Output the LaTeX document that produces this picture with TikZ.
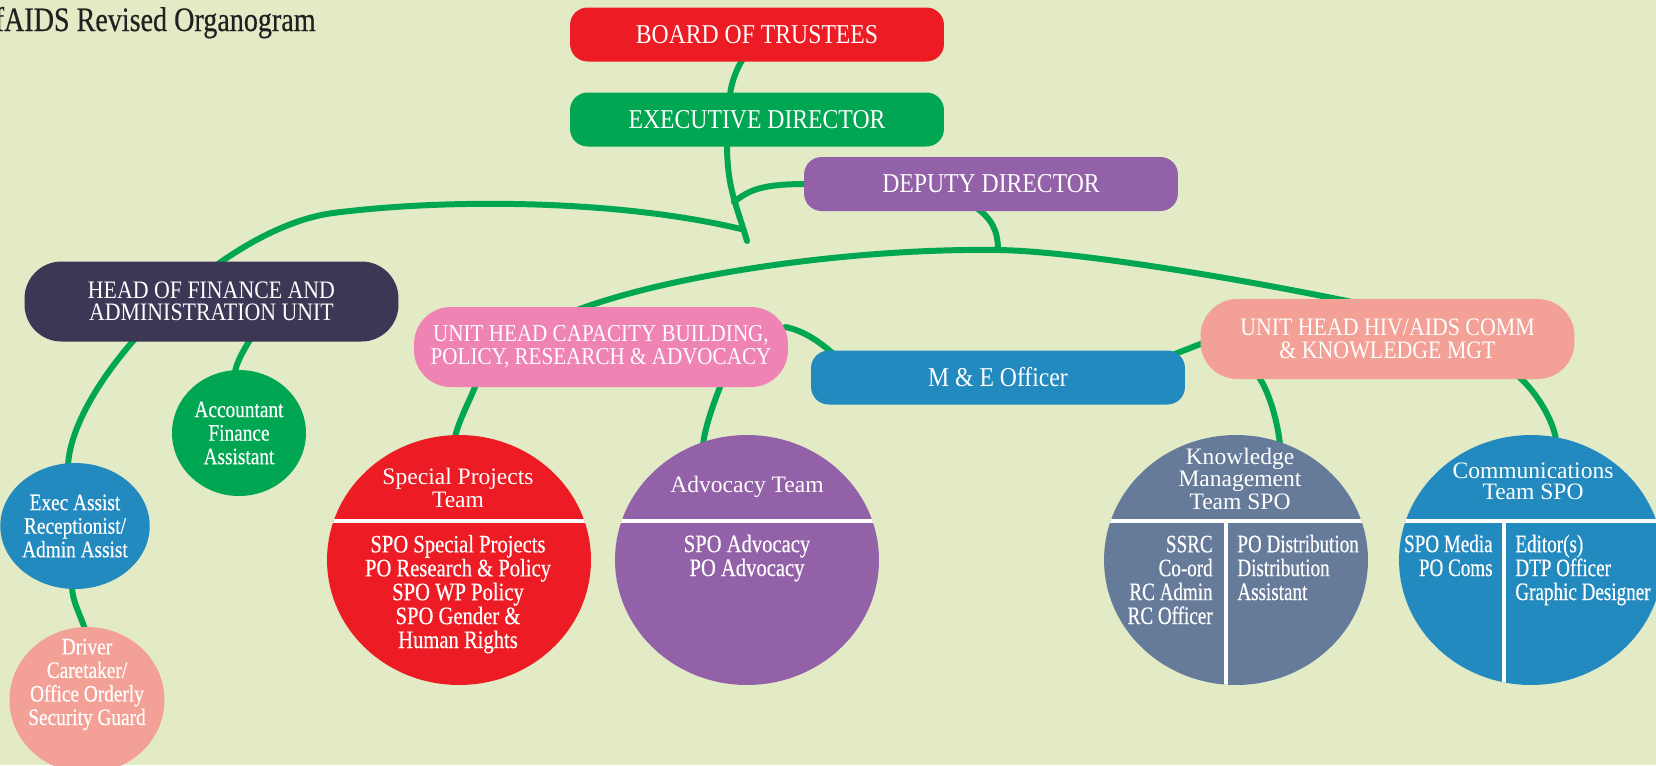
\documentclass[tikz,border=0pt]{standalone}
\usepackage{fontspec}
\setmainfont{Liberation Serif}
\newfontfamily\condfont{Liberation Serif}[FakeStretch=0.82,FakeBold=0.4]
\newfontfamily\tightfont{Liberation Serif}[FakeStretch=0.76,FakeBold=0.4]
\newfontfamily\postfont{Liberation Serif}[FakeStretch=0.87]
\usetikzlibrary{shapes.geometric,calc,backgrounds}
\definecolor{paper}{HTML}{E2EAC6}
\definecolor{leaf}{HTML}{00A651}
\definecolor{scarlet}{HTML}{ED1C24}
\definecolor{plum}{HTML}{9361A8}
\definecolor{ink}{HTML}{3D3756}
\definecolor{rose}{HTML}{EE83B4}
\definecolor{ocean}{HTML}{238ABF}
\definecolor{salmon}{HTML}{F3A096}
\definecolor{slate}{HTML}{667A99}
\definecolor{titlegray}{HTML}{231F20}
\tikzset{
  post/.style={rectangle,rounded corners=10pt,fill=#1,text=white,
               minimum width=7.48cm,minimum height=1.08cm,inner sep=0pt,
               font=\postfont\fontsize{15.5}{12.8}\selectfont,align=center},
  tall/.style={minimum height=1.6cm,rounded corners=21pt,
               font=\postfont\fontsize{14.3}{12.8}\selectfont},
  team/.style={ellipse,fill=#1,minimum width=5.28cm,minimum height=5cm,
               inner sep=0pt},
  dot/.style={ellipse,fill=#1,minimum width=2.68cm,minimum height=2.52cm,
              inner sep=0pt,text=white,align=center,
              font=\condfont\fontsize{13.4}{13.4}\selectfont},
  head/.style={text=white,inner sep=0pt,align=center,
               font=\fontsize{13.4}{11.6}\selectfont},
  body/.style={text=white,inner sep=0pt,align=center,
               font=\condfont\fontsize{14.3}{13.6}\selectfont},
  col/.style={body,font=\tightfont\fontsize{14.3}{13.6}\selectfont},
  wire/.style={draw=leaf,line width=3.4pt,line cap=round},
  split/.style={draw=white,line width=2.8pt},
  ttl/.style={text=titlegray,inner sep=0pt,
              font=\condfont\fontsize{19.5}{19.5}\selectfont},
}
\begin{document}
\begin{tikzpicture}[x=0.02cm,y=-0.02cm]
  \useasboundingbox (0,0) rectangle (1656,765);
  \clip (0,0) rectangle (1656,765);

  \node[ttl,anchor=base east] (title) at (316,31) {SAfAIDS Revised Organogram};

  % management boxes
  \node[post=scarlet] (board) at (757,34.5) {BOARD OF TRUSTEES};
  \node[post=leaf] (exec) at (757,119.5) {EXECUTIVE DIRECTOR};
  \node[post=plum] (deputy) at (991,184) {DEPUTY DIRECTOR};
  \node[post=ink,tall] (fin) at (211.5,301.5) {HEAD OF FINANCE AND\\ADMINISTRATION UNIT};
  \node[post=rose,tall,font=\postfont\fontsize{13.8}{12.8}\selectfont] (cap) at (601,347)
    {UNIT HEAD CAPACITY BUILDING,\\POLICY, RESEARCH \& ADVOCACY};
  \node[post=ocean] (mne) at (998,377.5) {M \& E Officer};
  \node[post=salmon,tall] (hiv) at (1387.5,339) {UNIT HEAD HIV/AIDS COMM\\\& KNOWLEDGE MGT};

  % staff circles
  \node[dot=ocean] (eas) at (75,526) {Exec Assist\\Receptionist/\\Admin Assist};
  \node[dot=leaf] (acc) at (239,433) {Accountant\\Finance\\Assistant};
  \node[dot=salmon,minimum width=3.1cm,minimum height=2.92cm] (drv) at (87,700) {};
  \node[body,font=\condfont\fontsize{13.4}{13.4}\selectfont,anchor=base] (drv-t)
    at (87,725) {Driver\\Caretaker/\\Office Orderly\\Security Guard};

  % team circles
  \node[team=scarlet] (spt) at (459,560) {};
  \node[team=plum] (adv) at (747,560) {};
  \node[team=slate] (kmt) at (1236,560) {};
  \node[team=ocean] (cmt) at (1531,560) {};

  \foreach \tm in {spt,adv,kmt,cmt}{
    \begin{scope}
      \clip (\tm.center) ellipse [x radius=2.64cm,y radius=2.5cm];
      \draw[split] ($(\tm.center)+(-140,-39)$) -- ($(\tm.center)+(140,-39)$);
    \end{scope}
  }
  \foreach \tm/\dx in {kmt/-10,cmt/-27}{
    \begin{scope}
      \clip (\tm.center) ellipse [x radius=2.64cm,y radius=2.5cm];
      \draw[split] ($(\tm.center)+(\dx,-39)$) -- ($(\tm.center)+(\dx,130)$);
    \end{scope}
  }

  % team texts (anchored on the last line)
  \node[head,anchor=base] (spt-h) at (458,507) {Special Projects\\Team};
  \node[body,anchor=base] (spt-b) at (458,648) {SPO Special Projects\\PO Research \& Policy\\SPO WP Policy\\SPO Gender \&\\Human Rights};
  \node[head,anchor=base] (adv-h) at (747,492) {Advocacy Team};
  \node[body,anchor=base] (adv-b) at (747,576) {SPO Advocacy\\PO Advocacy};
  \node[head,anchor=base] (kmt-h) at (1240,509) {Knowledge\\Management\\Team SPO};
  \node[col,align=right,anchor=base east] (kmt-l) at (1213,624) {SSRC\\Co-ord\\RC Admin\\RC Officer};
  \node[col,align=left,anchor=base west] (kmt-r) at (1237,600) {PO Distribution\\Distribution\\Assistant};
  \node[head,anchor=base] (cmt-h) at (1533,499) {Communications\\Team SPO};
  \node[col,align=right,anchor=base east] (cmt-l) at (1493,576) {SPO Media\\PO Coms};
  \node[col,align=left,anchor=base west] (cmt-r) at (1515,600) {Editor(s)\\DTP Officer\\Graphic Designer};

  \coordinate (lj) at (741,229);
  \coordinate (hub) at (747,241);
  \coordinate (dj) at (734,202);
  \coordinate (rj) at (998,250);

  \begin{scope}[on background layer]
    \fill[paper] (0,0) rectangle (1656,765);
    % top of the tree
    \draw[wire] ($(board.south)+(-14,-3)$) .. controls +(-6,9) and +(1,-12) .. ($(exec.north)+(-27,3)$);
    \draw[wire] ($(exec.south)+(-30,-3)$) .. controls +(0,45) and +(-10,-35) .. (hub);
    \draw[wire] ($(deputy.west)+(3,0)$) .. controls +(-45,0) and +(15,-12) .. (dj);
    \draw[wire] (lj) .. controls (620,200) and (450,198) .. (333,213)
      .. controls (220,228) and (72,380) .. ($(eas.north)+(-7,3)$);
    \draw[wire] ($(cap.north)+(-23,3)$) .. controls (680,272) and (860,248) .. (rj)
      .. controls (1070,251) and (1220,275) .. ($(hiv.north)+(-37,3)$);
    \draw[wire] ($(deputy.south)+(-14,-3)$) .. controls +(14,10) and +(0,-20) .. (rj);
    % unit heads
    \draw[wire] ($(cap.east)+(-3,-20)$) .. controls +(20,4) and +(-12,-10) .. ($(mne.north west)+(22,3)$);
    \draw[wire] ($(hiv.west)+(8,2)$) -- ($(mne.north east)+(-16,6)$);
    \draw[wire] ($(cap.south)+(-125,-3)$) .. controls +(-6,16) and +(3,-16) .. ($(spt.north)+(-4,3)$);
    \draw[wire] ($(cap.south)+(120,-3)$) .. controls +(-7,18) and +(2,-18) .. ($(adv.north)+(-44,10)$);
    \draw[wire] ($(hiv.south)+(-129,-3)$) .. controls +(12,18) and +(-2,-20) .. ($(kmt.north)+(44,10)$);
    \draw[wire] ($(hiv.south)+(131,-3)$) .. controls +(18,16) and +(-3,-20) .. ($(cmt.north)+(25,5)$);
    % finance unit
    \draw[wire] ($(fin.south)+(39,-3)$) .. controls +(-6,10) and +(1,-10) .. ($(acc.north)+(-4,3)$);
    \draw[wire] ($(eas.south)+(-3,-3)$) .. controls +(0,15) and +(-4,-14) .. ($(drv.north)+(-2,3)$);
  \end{scope}
\end{tikzpicture}
\end{document}
